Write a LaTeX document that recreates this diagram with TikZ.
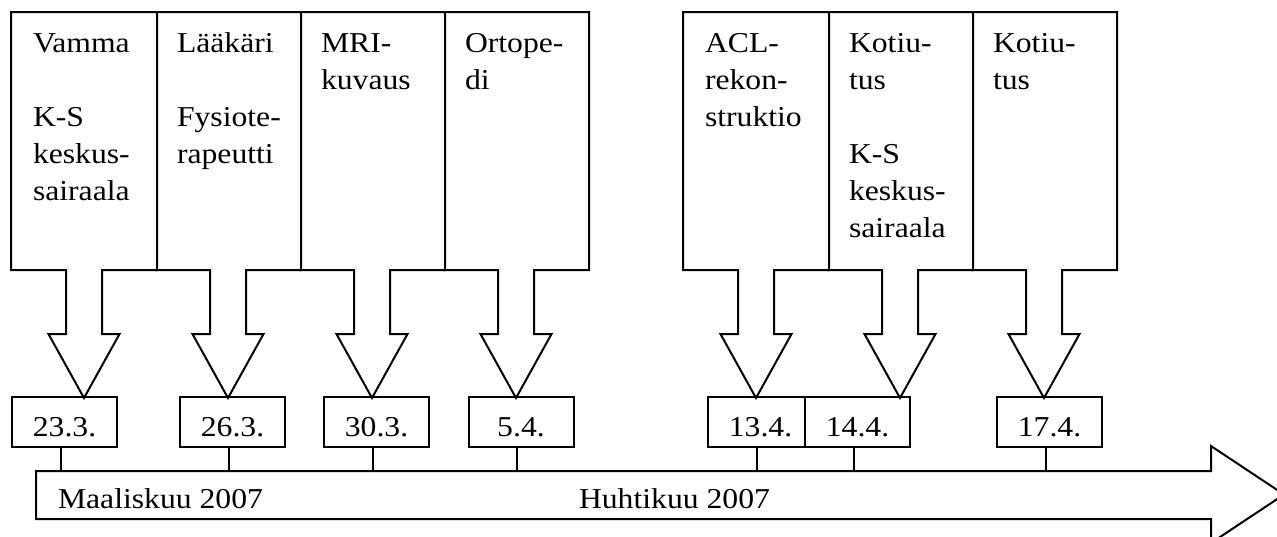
\documentclass[tikz,border=0pt]{standalone}
\usepackage{fontspec}
\setmainfont[FakeStretch=1.1]{Liberation Serif}
\usetikzlibrary{calc}

\newcommand{\diagfont}{\fontsize{21.6pt}{27.75pt}\selectfont}

% --- callout with a down arrow under its box ---
% optional argument closes the left side (first box of a row)
\newcommand{\calloutarrow}[2][]{%
  \draw (#2.north west) -- (#2.north east) -- (#2.south east)
    -- ($(#2.south)+(18,0)$) -- ($(#2.south)+(18,64)$) -- ($(#2.south)+(35.5,64)$)
    -- ($(#2.south)+(0,128)$)
    -- ($(#2.south)+(-35.5,64)$) -- ($(#2.south)+(-18,64)$) -- ($(#2.south)+(-18,0)$)
    -- (#2.south west) #1;
}

\tikzset{
  callbox/.style={minimum width=108pt, minimum height=192pt, inner sep=0pt},
  calltext/.style={anchor=base west, inner sep=0pt, text width=98pt, align=left, font=\diagfont},
  datebox/.style={draw, fill=white, minimum width=78.75pt, minimum height=37.5pt, inner sep=0pt,
    text height=29.25pt, text depth=8.25pt, font=\diagfont},
  monthtext/.style={anchor=base west, inner sep=0pt, font=\diagfont}
}

\begin{document}
\begin{tikzpicture}[x=0.75pt, y=-0.75pt, line width=1.5pt]
    % --- picture frame (pixels of the reference) ---
    \useasboundingbox (0,0) rectangle (1277,536);

    % --- time axis ---
    \def\tltop{471}
    \def\tlbot{519}
    \def\tlhead{1211}
    \draw[fill=white] (36,\tltop) -- (\tlhead,\tltop) -- (\tlhead,446) -- (1284,494.5)
        -- (\tlhead,543) -- (\tlhead,\tlbot) -- (36,\tlbot) -- cycle;
    \coordinate (tl) at (36,\tltop);
    \node[monthtext] (march) at (57,508) {Maaliskuu 2007};
    \node[monthtext] (april) at (578,508) {Huhtikuu 2007};

    % --- dates ---
    \node[datebox] (d1) at (64.5,422) {23.3.};
    \node[datebox] (d2) at (232.5,422) {26.3.};
    \node[datebox] (d3) at (376.5,422) {30.3.};
    \node[datebox] (d4) at (521,422) {5.4.};
    \node[datebox] (d5) at (760.5,422) {13.4.};
    \node[datebox] (d6) at (857.5,422) {14.4.};
    \node[datebox] (d7) at (1049.5,422) {17.4.};

    % ticks down to the axis
    \foreach \d in {d1,d2,d3,d4,d5,d6,d7}
        \draw ([xshift=-3pt]\d.south) -- ([xshift=-3pt]\d.south |- tl);

    % --- events ---
    \node[callbox] (c1) at (84,141) {};
    \node[callbox] (c2) at (228,141) {};
    \node[callbox] (c3) at (372,141) {};
    \node[callbox] (c4) at (516,141) {};
    \node[callbox] (c5) at (756,141) {};
    \node[callbox] (c6) at (900,141) {};
    \node[callbox] (c7) at (1044,141) {};
    \calloutarrow[-- cycle]{c1}
    \calloutarrow{c2}
    \calloutarrow{c3}
    \calloutarrow{c4}
    \calloutarrow[-- cycle]{c5}
    \calloutarrow{c6}
    \calloutarrow{c7}

    \node[calltext] (t1) at (32,52) {Vamma\\[\baselineskip]K-S\\keskus-\\sairaala};
    \node[calltext] (t2) at (176,52) {Lääkäri\\[\baselineskip]Fysiote-\\rapeutti};
    \node[calltext] (t3) at (320,52) {MRI-\\kuvaus};
    \node[calltext] (t4) at (464,52) {Ortope-\\di};
    \node[calltext] (t5) at (704,52) {ACL-\\rekon-\\struktio};
    \node[calltext] (t6) at (848,52) {Kotiu-\\tus\\[\baselineskip]K-S\\keskus-\\sairaala};
    \node[calltext] (t7) at (992,52) {Kotiu-\\tus};

\end{tikzpicture}
\end{document}
